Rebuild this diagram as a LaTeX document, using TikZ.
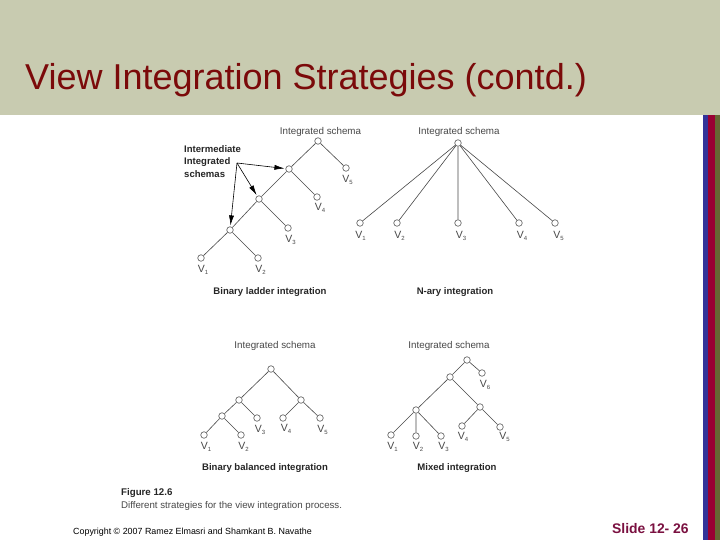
\documentclass[tikz,border=0pt]{standalone}
\usepackage{fontspec}
\setmainfont{Liberation Sans}
\usetikzlibrary{arrows.meta}
\definecolor{hdr}{HTML}{C8CBB0}
\definecolor{ttl}{HTML}{7B0A0A}
\definecolor{slidec}{HTML}{7A1040}
\definecolor{barb}{HTML}{333399}
\definecolor{barr}{HTML}{990033}
\definecolor{barg}{HTML}{666633}
\definecolor{ink}{HTML}{484848}
\tikzset{
  x=1pt,y=-1pt,
  vert/.style={circle,draw=ink!80,fill=white,line width=.7pt,minimum size=6.5pt,inner sep=0pt},
  conn/.style={draw=ink,line width=.6pt},
  pick/.style={draw=black,line width=.6pt,-{Latex[length=10pt,width=5pt]},shorten >=1pt},
  captxt/.style={text=ink,font=\fontsize{9.8}{11}\selectfont,inner sep=0pt},
  bcap/.style={text=black!85,font=\fontsize{9.55}{11}\selectfont\bfseries,inner sep=0pt},
  vlab/.style={text=ink,font=\fontsize{10.5}{12}\selectfont,inner sep=0pt}
}
\newcommand{\vv}[1]{V\raisebox{-2pt}{\fontsize{6}{7}\selectfont #1}}
\begin{document}
\begin{tikzpicture}
\useasboundingbox (0,0) rectangle (720,540);
\fill[white] (0,0) rectangle (720,540);
\fill[hdr] (0,0) rectangle (720,115);
\fill[barb] (703,115) rectangle (708,540);
\fill[barr] (708,115) rectangle (715,540);
\fill[barg] (715,115) rectangle (720,540);
\node[anchor=base west,inner sep=0pt,text=ttl,font=\fontsize{36}{40}\selectfont] (title) at (25,90) {View Integration Strategies (contd.)};

% Binary ladder
\node[captxt] (c1) at (320.5,131.5) {Integrated schema};
\node[vert] (a0) at (318,141) {};
\node[vert] (a1) at (289,169) {};
\node[vert] (a2) at (259,199) {};
\node[vert] (a3) at (230,230) {};
\node[vert] (a5) at (346,168) {};
\node[vert] (a4) at (317,197) {};
\node[vert] (av3) at (288,228) {};
\node[vert] (av1) at (201,258) {};
\node[vert] (av2) at (258,258) {};
\draw[conn] (a0)--(a1) (a1)--(a2) (a2)--(a3) (a0)--(a5) (a1)--(a4) (a2)--(av3) (a3)--(av1) (a3)--(av2);
\node[vlab] (la5) at (347.5,180) {\vv{5}};
\node[vlab] (la4) at (320,208) {\vv{4}};
\node[vlab] (la3) at (290.5,240) {\vv{3}};
\node[vlab] (la1) at (203,269.5) {\vv{1}};
\node[vlab] (la2) at (260.5,269.5) {\vv{2}};
\node[bcap,anchor=base west] (i1) at (184,152.5) {Intermediate};
\node[bcap,anchor=base west] (i2) at (184,165) {Integrated};
\node[bcap,anchor=base west] (i3) at (184,178) {schemas};
\coordinate (src) at (237,163);
\draw[pick] (src)--(a1);
\draw[pick] (src)--(a2);
\draw[pick] (src)--(a3);
\node[bcap] (t1) at (270,292) {Binary ladder integration};

% N-ary
\node[captxt] (c2) at (459,131.5) {Integrated schema};
\node[vert] (b0) at (458,143) {};
\node[vert] (b1) at (360,223) {};
\node[vert] (b2) at (397,223) {};
\node[vert] (b3) at (458,223) {};
\node[vert] (b4) at (519,223) {};
\node[vert] (b5) at (555,223) {};
\draw[conn] (b0)--(b1) (b0)--(b2) (b0)--(b3) (b0)--(b4) (b0)--(b5);
\node[vlab] (lb1) at (360.5,236) {\vv{1}};
\node[vlab] (lb2) at (399.5,236) {\vv{2}};
\node[vlab] (lb3) at (461,236) {\vv{3}};
\node[vlab] (lb4) at (522,236) {\vv{4}};
\node[vlab] (lb5) at (558.5,236) {\vv{5}};
\node[bcap] (t2) at (455,292) {N-ary integration};

% Binary balanced
\node[captxt] (c3) at (275,345.5) {Integrated schema};
\node[vert] (d0) at (271,369) {};
\node[vert] (d1) at (239,400) {};
\node[vert] (d2) at (301,400) {};
\node[vert] (d3) at (222,416) {};
\node[vert] (dv3) at (257,418) {};
\node[vert] (dv4) at (283,418) {};
\node[vert] (dv5) at (320,418) {};
\node[vert] (dv1) at (204,435) {};
\node[vert] (dv2) at (241,435) {};
\draw[conn] (d0)--(d1) (d0)--(d2) (d1)--(d3) (d1)--(dv3) (d2)--(dv4) (d2)--(dv5) (d3)--(dv1) (d3)--(dv2);
\node[vlab] (ld1) at (206,447) {\vv{1}};
\node[vlab] (ld2) at (243.5,447) {\vv{2}};
\node[vlab] (ld3) at (260,430) {\vv{3}};
\node[vlab] (ld4) at (286,429) {\vv{4}};
\node[vlab] (ld5) at (322.5,430) {\vv{5}};
\node[bcap] (t3) at (265,468.5) {Binary balanced integration};

% Mixed
\node[captxt] (c4) at (449,345.5) {Integrated schema};
\node[vert] (e0) at (467,360) {};
\node[vert] (e6) at (482,373) {};
\node[vert] (e1) at (450,377) {};
\node[vert] (e2) at (480,407) {};
\node[vert] (e3) at (416,410) {};
\node[vert] (e4) at (462,426) {};
\node[vert] (e5) at (500,427) {};
\node[vert] (ev1) at (391,435) {};
\node[vert] (ev2) at (416,436) {};
\node[vert] (ev3) at (441,436) {};
\draw[conn] (e0)--(e6) (e0)--(e1) (e1)--(e2) (e1)--(e3) (e2)--(e4) (e2)--(e5) (e3)--(ev1) (e3)--(ev2) (e3)--(ev3);
\node[vlab] (le1) at (392.5,447) {\vv{1}};
\node[vlab] (le2) at (418,447) {\vv{2}};
\node[vlab] (le3) at (443.5,447) {\vv{3}};
\node[vlab] (le4) at (463,436.5) {\vv{4}};
\node[vlab] (le5) at (504.5,437) {\vv{5}};
\node[vlab] (le6) at (485,385) {\vv{6}};
\node[bcap] (t4) at (457,468) {Mixed integration};

% Caption and footer
\node[anchor=base west,inner sep=0pt,text=black!85,font=\fontsize{9.7}{11}\selectfont\bfseries] (fig) at (121,495.5) {Figure 12.6};
\node[anchor=base west,inner sep=0pt,text=ink,font=\fontsize{9.7}{11}\selectfont] (figt) at (121,508) {Different strategies for the view integration process.};
\node[anchor=base west,inner sep=0pt,text=black,font=\fontsize{8.9}{10}\selectfont] (copy) at (73,534) {Copyright © 2007 Ramez Elmasri and Shamkant B. Navathe};
\node[anchor=base west,inner sep=0pt,text=slidec,font=\fontsize{13.9}{15}\selectfont\bfseries] (sl) at (612,533) {Slide 12- 26};
\end{tikzpicture}
\end{document}
